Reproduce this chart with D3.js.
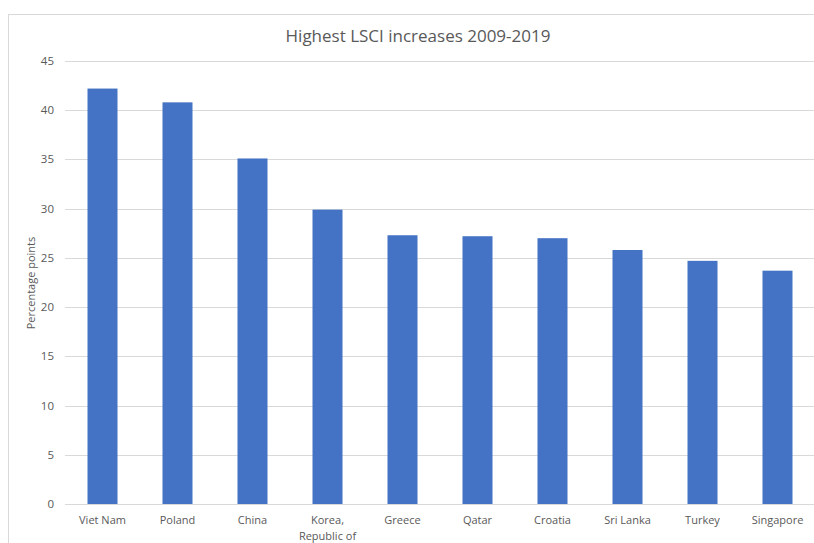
<!DOCTYPE html>
<html>
  <head>
    <script src="https://cdn.jsdelivr.net/npm/d3@7"></script>
    <style>
      body { margin: 0; background: #fff; }
      text { font-family: "Open Sans", sans-serif; fill: #595959; }
    </style>
  </head>
  <body>
    <div id="vis"></div>
    <script type="text/javascript">

        const countries = ["Viet Nam", "Poland", "China", "Korea, Republic of", "Greece",
                           "Qatar", "Croatia", "Sri Lanka", "Turkey", "Singapore"];
        const increases = [42.2, 40.8, 35.1, 29.9, 27.3, 27.2, 27.0, 25.8, 24.7, 23.7];
        const yTicks = [0, 5, 10, 15, 20, 25, 30, 35, 40, 45];

        const width = 814, height = 543;
        const margin = {left: 65, right: -1, top: 61, bottom: 39};

        const svg = d3.select("#vis")
            .append("svg")
            .attr("width", width)
            .attr("height", height);

        // chart area frame (cropped at right and bottom)
        svg.append("rect")
            .attr("x", 8.5).attr("y", 14.5)
            .attr("width", 820).attr("height", 560)
            .attr("fill", "none")
            .attr("stroke", "#d9d9d9");

        const x = d3.scaleBand()
            .domain(countries)
            .range([margin.left, width - margin.right])
            .paddingInner(0.6)
            .paddingOuter(0.3);

        const y = d3.scaleLinear()
            .domain([0, 45])
            .range([height - margin.bottom, margin.top]);

        // gridlines
        svg.append("g")
            .selectAll("line")
            .data(yTicks)
            .enter()
            .append("line")
            .attr("x1", margin.left)
            .attr("x2", width)
            .attr("y1", d => Math.round(y(d)) + 0.5)
            .attr("y2", d => Math.round(y(d)) + 0.5)
            .attr("stroke", "#d9d9d9")
            .attr("stroke-width", 1);

        // y tick labels
        svg.append("g")
            .selectAll("text")
            .data(yTicks)
            .enter()
            .append("text")
            .attr("x", 54)
            .attr("y", d => y(d))
            .attr("dy", "0.35em")
            .attr("text-anchor", "end")
            .style("font-size", "11.5px")
            .text(d => d);

        // bars
        svg.append("g")
            .selectAll("rect")
            .data(countries)
            .enter()
            .append("rect")
            .attr("x", d => x(d))
            .attr("width", x.bandwidth())
            .attr("y", (d, i) => y(increases[i]))
            .attr("height", (d, i) => y(0) - y(increases[i]))
            .attr("fill", "#4472c4");

        // category labels
        svg.append("g")
            .selectAll("text")
            .data(countries)
            .enter()
            .append("text")
            .attr("x", d => x(d) + x.bandwidth() / 2)
            .attr("y", 524)
            .attr("text-anchor", "middle")
            .style("font-size", "11px")
            .each(function(d) {
                const parts = d === "Korea, Republic of" ? ["Korea,", "Republic of"] : [d];
                d3.select(this).selectAll("tspan")
                    .data(parts)
                    .enter()
                    .append("tspan")
                    .attr("x", x(d) + x.bandwidth() / 2)
                    .attr("dy", (p, i) => i === 0 ? 0 : 16)
                    .text(p => p);
            });

        // axis title
        svg.append("text")
            .attr("transform", "translate(35,283) rotate(-90)")
            .attr("text-anchor", "middle")
            .style("font-size", "11px")
            .text("Percentage points");

        // chart title
        svg.append("text")
            .attr("x", 418)
            .attr("y", 42)
            .attr("text-anchor", "middle")
            .style("font-size", "17px")
            .text("Highest LSCI increases 2009-2019");

    </script>
  </body>
</html>
